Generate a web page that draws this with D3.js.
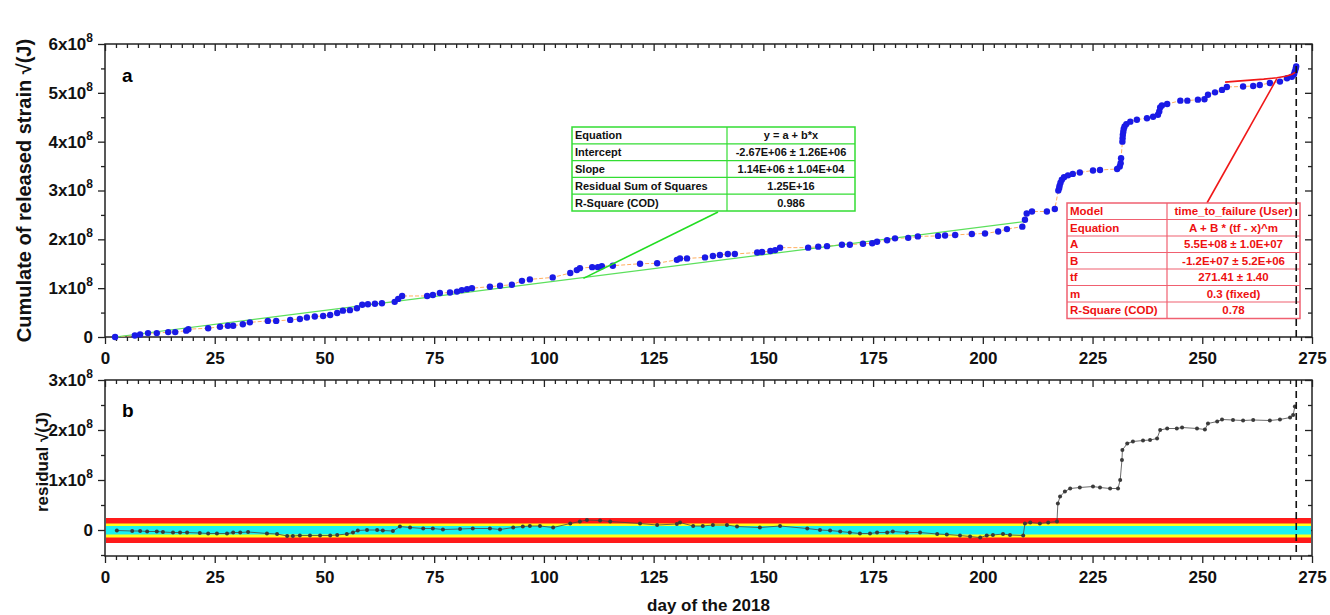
<html>
<head>
<meta charset="utf-8">
<style>
    body { margin:0; background:#fff; }
    svg { font-family:"Liberation Sans", Arial, sans-serif; }
    .tick text { font-weight:bold; font-size:17px; fill:#111; }
    .tick line, .domain { stroke:#222; }
</style>
</head>
<body>
<svg id="plot"></svg>
<script src="https://d3js.org/d3.v7.min.js"></script>
<script>

// day of 2018 and cumulative released strain, in units of 1x10^8 sqrt(J)
var days = [2.3,6.8,8,9.8,11.8,14.4,16,18.5,19,23.5,26.2,28,29.2,31.4,33,37.1,39,
    42.2,44.4,46,47.8,49.7,51.3,52.9,54.2,55.8,57.4,58.6,59.9,61.5,63.1,66,66.8,67.7,
    73.4,74.7,76.3,78.6,80.2,81.3,82.5,83.6,87.7,90,92.7,95,96.8,102,106,107.5,108.2,
    111,112.3,113.2,115.7,121.9,125.8,130.3,131,132.6,136.7,138.5,140.1,141.9,143.5,
    148.6,149.7,151.6,152.7,153.8,160.2,162.5,164.5,167.9,169.7,172.7,174.8,175.9,
    178.2,180,183,185.2,189.8,191.4,193.7,197.5,200.5,203.5,205.5,209,209.6,210,211.2,
    214.6,216.4,217.2,217.4,217.5,217.7,218,218.5,219.4,220.5,222.1,225.1,226.7,230.6,
    231.2,231.4,231.5,231.8,231.85,231.9,232,232.1,232.3,232.7,233.6,235.1,237.4,238.8,
    239.9,240.2,240.4,240.8,242,245,246.6,249,250.5,251.3,252.9,254.5,255.6,259.3,
    261.6,263.1,265.4,267.7,269.3,270.4,270.9,271.1,271.3,271.4];
var cumulative = [0,0.03,0.05,0.08,0.08,0.1,0.1,0.13,0.16,0.18,0.21,0.23,0.23,0.26,0.3,0.33,0.33,
    0.35,0.37,0.4,0.42,0.43,0.45,0.49,0.54,0.55,0.59,0.66,0.67,0.68,0.69,0.72,0.78,0.84,
    0.84,0.86,0.9,0.91,0.93,0.96,0.98,1.0,1.03,1.05,1.07,1.15,1.18,1.22,1.31,1.37,1.41,
    1.43,1.43,1.45,1.46,1.5,1.51,1.58,1.61,1.61,1.63,1.66,1.68,1.7,1.7,
    1.73,1.74,1.76,1.78,1.83,1.83,1.85,1.86,1.89,1.89,1.91,1.92,1.95,
    1.98,2.02,2.03,2.06,2.07,2.08,2.09,2.11,2.12,2.16,2.21,2.26,2.4,2.53,2.57,
    2.57,2.62,3.0,3.05,3.1,3.16,3.22,3.27,3.31,3.34,3.37,3.41,3.42,3.44,
    3.49,3.56,3.66,4.0,4.07,4.14,4.2,4.26,4.31,4.36,4.41,4.45,4.48,4.51,
    4.55,4.62,4.7,4.74,4.77,4.84,4.84,4.86,4.87,4.96,5.01,5.06,5.12,5.13,
    5.14,5.16,5.2,5.23,5.3,5.33,5.38,5.44,5.5,5.54];

// residual of the linear fit, same units
var residualDays = [2.7,6.2,8,9.6,11.8,13.2,15.5,17.1,18.7,21.6,23.5,25.5,27.8,29.2,30.8,32.6,
    36.9,39.2,41.5,42.8,44.4,46.7,49,51.3,52.9,55.1,56.5,57.6,59.7,62,63.3,65.6,67.2,
    69.5,72.5,74.7,77,80.9,83.8,87.7,90,93,95.2,96.8,99.1,102.1,106,108.2,109.8,112.8,
    115.1,121.9,125.8,130.3,131,134,136.2,138.5,141.7,144,149.2,153.8,160,162.9,165.2,
    167.5,169.7,172,174.3,175.9,178.2,179.5,182.7,185.7,189.6,191.8,194.8,197.1,199.4,
    200.9,202.3,204.6,206.2,209.2,209.6,210.8,213,214.9,216.9,217.1,217.6,218.7,219.9,
    222.1,225.1,226.7,229,230.8,231.3,231.7,231.8,232.9,234.2,236.5,238.1,239.7,240.4,
    242,244.2,245.4,248.8,250.6,251.3,253.4,254.5,257,259.3,261.6,265.4,267.7,270,
    270.7,271.1];
var residuals = [-0.01,-0.02,-0.02,-0.03,-0.03,-0.04,-0.05,-0.05,-0.05,-0.06,-0.07,-0.07,-0.07,-0.05,-0.05,-0.04,
    -0.07,-0.08,-0.12,-0.12,-0.11,-0.11,-0.11,-0.11,-0.1,-0.08,-0.05,-0.01,0,0,-0.01,-0.02,0.07,
    0.05,0.03,0.03,0.01,0.02,0.03,0.03,0.01,0.05,0.07,0.08,0.08,0.05,0.13,0.17,0.2,0.19,
    0.17,0.13,0.1,0.12,0.15,0.08,0.08,0.1,0.1,0.07,0.05,0.08,0.03,0,-0.01,
    -0.03,-0.05,-0.07,-0.07,-0.05,-0.05,-0.03,-0.05,-0.05,-0.08,-0.09,-0.11,-0.13,-0.15,
    -0.11,-0.1,-0.08,-0.1,-0.11,0.13,0.15,0.13,0.15,0.17,0.53,0.67,0.77,0.83,
    0.85,0.87,0.85,0.83,0.83,1.0,1.4,1.6,1.73,1.77,1.79,1.8,1.83,2.0,
    2.03,2.03,2.05,2.03,2.01,2.13,2.17,2.21,2.2,2.19,2.2,2.19,2.21,2.25,
    2.3,2.47];

// fitted curves
var linearFitDays = [2.3, 210];
var linearFitValues = [0.0, 2.37];
var failureFitDays = [255.2,258,261,264,267,269,270.5,271.2];
var failureFitValues = [5.22,5.24,5.26,5.28,5.31,5.34,5.38,5.42];
var failureDay = 271.41;

// residual bands: [low, high]
var bandRanges = [[-0.26,0.24],[-0.15,0.13],[-0.09,0.08]];
var bandColors = ["#ff1a1a","#ffff1a","#1af0f0"];

var xTicks = [0,25,50,75,100,125,150,175,200,225,250,275];
var yTicksA = [0,1,2,3,4,5,6];
var yTicksB = [0,1,2,3];

var linearRows = [
    ["Equation","y = a + b*x"],
    ["Intercept","-2.67E+06 \u00b1 1.26E+06"],
    ["Slope","1.14E+06 \u00b1 1.04E+04"],
    ["Residual Sum of Squares","1.25E+16"],
    ["R-Square (COD)","0.986"]];
var failureRows = [
    ["Model","time_to_failure (User)"],
    ["Equation","A + B * (tf - x)^m"],
    ["A","5.5E+08 \u00b1 1.0E+07"],
    ["B","-1.2E+07 \u00b1 5.2E+06"],
    ["tf","271.41 \u00b1 1.40"],
    ["m","0.3 (fixed)"],
    ["R-Square (COD)","0.78"]];

var screen = {width:1330, height:615};
var panelA = {left:105, right:1312, top:44, bottom:337};
var panelB = {left:105, right:1312, top:380, bottom:556};

var svg = d3.select("#plot")
    .attr("width",screen.width)
    .attr("height",screen.height);

var xScale = d3.scaleLinear().domain([0,275]).range([panelA.left,panelA.right]);
var yScaleA = d3.scaleLinear().domain([0,6]).range([panelA.bottom,panelA.top]);
var yScaleB = d3.scaleLinear().domain([-0.52,3]).range([panelB.bottom,panelB.top]);

var minorX = d3.range(0,275.1,2.5).filter(function(d){ return d%25 != 0; });

// tick labels like 3x10^8
var powerLabels = function(g)
{
    g.selectAll(".tick text").each(function(d)
    {
        var t = d3.select(this);
        t.text("");
        if(d == 0) { t.text("0"); return; }
        t.append("tspan").text(d + "x10");
        t.append("tspan").attr("dy",-8).attr("font-size",12).text("8");
    });
}

var drawAxes = function(panel,yScale,yTicks,yMinor)
{
    var frame = svg.append("g");

    frame.append("g")
        .attr("transform","translate(0,"+panel.bottom+")")
        .call(d3.axisBottom(xScale).tickValues(xTicks).tickSize(7).tickPadding(8).tickFormat(d3.format("d")));
    frame.append("g")
        .attr("transform","translate(0,"+panel.bottom+")")
        .call(d3.axisBottom(xScale).tickValues(minorX).tickSize(4).tickFormat(""));
    frame.append("g")
        .attr("transform","translate(0,"+panel.top+")")
        .call(d3.axisTop(xScale).tickValues(xTicks).tickSize(-7).tickFormat(""));
    frame.append("g")
        .attr("transform","translate(0,"+panel.top+")")
        .call(d3.axisTop(xScale).tickValues(minorX).tickSize(-4).tickFormat(""));

    frame.append("g")
        .attr("transform","translate("+panel.left+",0)")
        .call(d3.axisLeft(yScale).tickValues(yTicks).tickSize(7).tickPadding(5))
        .call(powerLabels);
    frame.append("g")
        .attr("transform","translate("+panel.left+",0)")
        .call(d3.axisLeft(yScale).tickValues(yMinor).tickSize(4).tickFormat(""));
    frame.append("g")
        .attr("transform","translate("+panel.right+",0)")
        .call(d3.axisRight(yScale).tickValues(yTicks).tickSize(-7).tickFormat(""));
    frame.append("g")
        .attr("transform","translate("+panel.right+",0)")
        .call(d3.axisRight(yScale).tickValues(yMinor).tickSize(-4).tickFormat(""));

    frame.selectAll(".domain").remove();
    frame.selectAll(".tick line").attr("stroke-width",1.3);

    frame.append("rect")
        .attr("x",panel.left)
        .attr("y",panel.top)
        .attr("width",panel.right-panel.left)
        .attr("height",panel.bottom-panel.top)
        .attr("fill","none")
        .attr("stroke","#222")
        .attr("stroke-width",1.5);
}

var drawTable = function(rows,x,y,w,colW,rowH,lineColor,textColor,textSize)
{
    var table = svg.append("g").attr("transform","translate("+x+","+y+")");
    table.append("rect")
        .attr("width",w).attr("height",rows.length*rowH)
        .attr("fill","white").attr("stroke",lineColor).attr("stroke-width",1.5);
    table.selectAll("line.row")
        .data(d3.range(1,rows.length))
        .enter().append("line")
        .attr("x1",0).attr("x2",w)
        .attr("y1",function(i){ return i*rowH; })
        .attr("y2",function(i){ return i*rowH; })
        .attr("stroke",lineColor).attr("stroke-width",1.2);
    table.append("line")
        .attr("x1",colW).attr("x2",colW).attr("y1",0).attr("y2",rows.length*rowH)
        .attr("stroke",lineColor).attr("stroke-width",1.2);
    var cells = table.selectAll("g.cell")
        .data(rows)
        .enter().append("g")
        .attr("transform",function(r,i){ return "translate(0,"+(i*rowH+rowH/2+4)+")"; });
    cells.append("text")
        .attr("x",3)
        .attr("font-size",textSize).attr("font-weight","bold").attr("fill",textColor)
        .text(function(r){ return r[0]; });
    cells.append("text")
        .attr("x",colW+(w-colW)/2)
        .attr("text-anchor","middle")
        .attr("font-size",textSize).attr("font-weight","bold").attr("fill",textColor)
        .text(function(r){ return r[1]; });
}

// ---------- panel a ----------
var pointsA = days.map(function(d,i){ return [d,cumulative[i]]; });

drawAxes(panelA,yScaleA,yTicksA,[0.5,1.5,2.5,3.5,4.5,5.5]);

var line = d3.line()
    .x(function(p){ return xScale(p[0]); });

svg.append("path")
    .datum(pointsA)
    .attr("d",line.y(function(p){ return yScaleA(p[1]); }))
    .attr("fill","none")
    .attr("stroke","#ffb060")
    .attr("stroke-width",1)
    .attr("stroke-dasharray","4,2");

svg.append("path")
    .datum(linearFitDays.map(function(d,i){ return [d,linearFitValues[i]]; }))
    .attr("d",line.y(function(p){ return yScaleA(p[1]); }))
    .attr("fill","none")
    .attr("stroke","#5ce05c")
    .attr("stroke-width",1.2);

svg.append("g")
    .selectAll("circle")
    .data(pointsA)
    .enter().append("circle")
    .attr("cx",function(p){ return xScale(p[0]); })
    .attr("cy",function(p){ return yScaleA(p[1]); })
    .attr("r",3.2)
    .attr("fill","#1a1ae6");

svg.append("path")
    .datum(failureFitDays.map(function(d,i){ return [d,failureFitValues[i]]; }))
    .attr("d",line.y(function(p){ return yScaleA(p[1]); }))
    .attr("fill","none")
    .attr("stroke","#f01818")
    .attr("stroke-width",1.6);

// leader lines to the fit tables
svg.append("line")
    .attr("x1",718).attr("y1",212)
    .attr("x2",xScale(109)).attr("y2",yScaleA(1.2))
    .attr("stroke","#22dd22").attr("stroke-width",1.6);
svg.append("line")
    .attr("x1",1207).attr("y1",203)
    .attr("x2",xScale(267)).attr("y2",yScaleA(5.29))
    .attr("stroke","#f01818").attr("stroke-width",1.6);

drawTable(linearRows,572,127,283,155,16.8,"#33dd33","#111",11);
drawTable(failureRows,1067,203,233,100,16.5,"#f06070","#ee1111",11.5);

svg.append("text")
    .attr("x",122).attr("y",82)
    .attr("font-size",19).attr("font-weight","bold")
    .text("a");

// ---------- panel b ----------
drawAxes(panelB,yScaleB,yTicksB,[-0.5,0.5,1.5,2.5]);

svg.append("g")
    .selectAll("rect")
    .data(bandRanges)
    .enter().append("rect")
    .attr("x",panelB.left+1)
    .attr("width",panelB.right-panelB.left-2)
    .attr("y",function(b){ return yScaleB(b[1]); })
    .attr("height",function(b){ return yScaleB(b[0])-yScaleB(b[1]); })
    .attr("fill",function(b,i){ return bandColors[i]; });

var pointsB = residualDays.map(function(d,i){ return [d,residuals[i]]; });

svg.append("path")
    .datum(pointsB)
    .attr("d",line.y(function(p){ return yScaleB(p[1]); }))
    .attr("fill","none")
    .attr("stroke","#444")
    .attr("stroke-width",0.8);

svg.append("g")
    .selectAll("circle")
    .data(pointsB)
    .enter().append("circle")
    .attr("cx",function(p){ return xScale(p[0]); })
    .attr("cy",function(p){ return yScaleB(p[1]); })
    .attr("r",2)
    .attr("fill","#3a3a3a");

svg.append("text")
    .attr("x",122).attr("y",417)
    .attr("font-size",19).attr("font-weight","bold")
    .text("b");

// time to failure marker in both panels
[panelA,panelB].forEach(function(p)
{
    svg.append("line")
        .attr("x1",xScale(failureDay)).attr("x2",xScale(failureDay))
        .attr("y1",p.top).attr("y2",p.bottom)
        .attr("stroke","#111").attr("stroke-width",1.6)
        .attr("stroke-dasharray","7,4");
});

// axis titles
svg.append("text")
    .attr("transform","translate(31,"+((panelA.top+panelA.bottom)/2)+") rotate(-90)")
    .attr("text-anchor","middle")
    .attr("font-size",20).attr("font-weight","bold").attr("fill","#111")
    .text("Cumulate of released strain \u221a(J)");

svg.append("text")
    .attr("transform","translate(48,462) rotate(-90)")
    .attr("text-anchor","middle")
    .attr("font-size",17).attr("font-weight","bold").attr("fill","#111")
    .text("residual \u221a(J)");

svg.append("text")
    .attr("x",(panelB.left+panelB.right)/2)
    .attr("y",611)
    .attr("text-anchor","middle")
    .attr("font-size",17).attr("font-weight","bold").attr("fill","#111")
    .text("day of the 2018");

</script>
</body>
</html>
